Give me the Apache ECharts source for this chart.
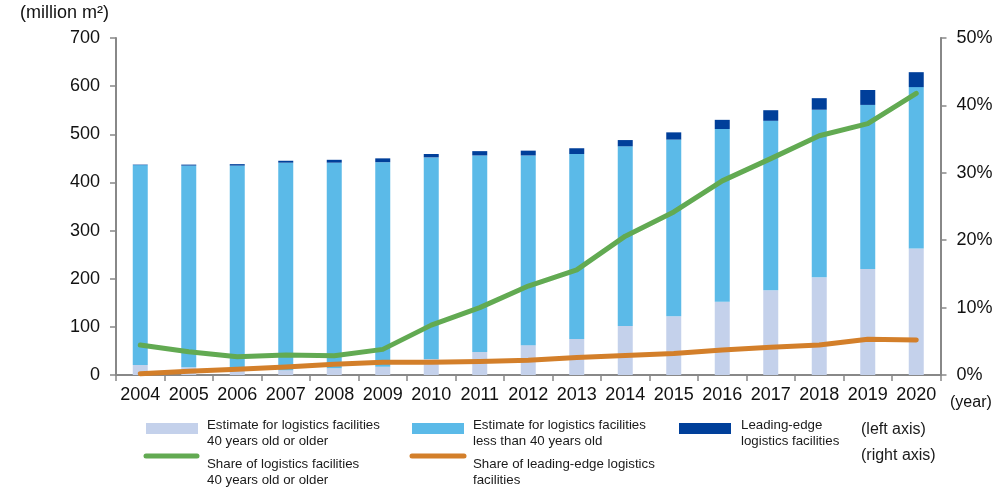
<!DOCTYPE html>
<html><head><meta charset="utf-8">
<script src="https://cdn.jsdelivr.net/npm/echarts@6/dist/echarts.min.js"></script>
<style>html,body{margin:0;padding:0;background:#fff}#c{width:1006px;height:487px}</style>
</head><body><div id="c"></div>
<script>
const years = ['2004','2005','2006','2007','2008','2009','2010','2011','2012','2013','2014','2015','2016','2017','2018','2019','2020'];
const old40 = [21,16,12,10,14,17,33,48,62,75,102,122,152,176,203,220,263];
const young40 = [415,419,423,431,427,425,419,408,394,384,373,367,359,352,348,341,335];
const leading = [1,2,3,4,6,8,7,9,10,12,13,15,19,22,24,31,31];
const shareOld = [4.45,3.46,2.7,2.97,2.87,3.8,7.4,10.0,13.2,15.6,20.6,24.2,28.8,32.1,35.5,37.3,41.8];
const shareLeading = [0.2,0.55,0.85,1.2,1.6,1.9,1.9,2.0,2.2,2.6,2.9,3.2,3.7,4.1,4.45,5.3,5.2];
const leftTicks = [0,100,200,300,400,500,600,700];
const rightTicks = [0,10,20,30,40,50];

const C_OLD='#C4D1EB', C_YOUNG='#5BBAE8', C_LEAD='#003F9A', C_GREEN='#62AA52', C_ORANGE='#D37F2A';
const FONT='Liberation Sans, Arial, sans-serif';
const axisLine={show:true,lineStyle:{color:'#888',width:2}};
const tick={show:true,length:6,lineStyle:{color:'#888',width:1.5}};
const chart = echarts.init(document.getElementById('c'));
const legText = (x,y,t,fs)=>({type:'text',left:x,top:y,style:{text:t,fontFamily:FONT,fontSize:fs||13.3,fill:'#1a1a1a',lineHeight:16}});
chart.setOption({
  animation:false,
  grid:{left:116,right:65.5,top:38,bottom:112},
  xAxis:{type:'category',data:years,boundaryGap:true,
    axisLine:axisLine,axisTick:tick,
    axisLabel:{fontFamily:FONT,fontSize:18,color:'#111',margin:11,interval:0}},
  yAxis:[
    {type:'value',min:leftTicks[0],max:leftTicks[leftTicks.length-1],interval:100,
     axisLine:axisLine,axisTick:tick,splitLine:{show:false},
     axisLabel:{fontFamily:FONT,fontSize:18,color:'#111',margin:16}},
    {type:'value',min:rightTicks[0],max:rightTicks[rightTicks.length-1],interval:10,position:'right',
     axisLine:axisLine,axisTick:tick,splitLine:{show:false},
     axisLabel:{fontFamily:FONT,fontSize:18,color:'#111',margin:16,formatter:'{value}%'}}
  ],
  series:[
    {type:'bar',stack:'a',data:old40,barWidth:15,itemStyle:{color:C_OLD}},
    {type:'bar',stack:'a',data:young40,barWidth:15,itemStyle:{color:C_YOUNG}},
    {type:'bar',stack:'a',data:leading,barWidth:15,itemStyle:{color:C_LEAD}},
    {type:'line',yAxisIndex:1,data:shareOld,symbol:'none',lineStyle:{color:C_GREEN,width:5,cap:'round',join:'round'},z:5},
    {type:'line',yAxisIndex:1,data:shareLeading,symbol:'none',lineStyle:{color:C_ORANGE,width:5,cap:'round',join:'round'},z:5}
  ],
  graphic:[
    {type:'text',left:20,top:4,style:{text:'(million m²)',fontFamily:FONT,fontSize:18,fill:'#111'}},
    {type:'text',left:950,top:395,style:{text:'(year)',fontFamily:FONT,fontSize:16,fill:'#111'}},
    {type:'rect',shape:{x:146,y:423,width:52,height:11},style:{fill:C_OLD}},
    legText(207,417,'Estimate for logistics facilities\n40 years old or older'),
    {type:'rect',shape:{x:412,y:423,width:52,height:11},style:{fill:C_YOUNG}},
    legText(473,417,'Estimate for logistics facilities\nless than 40 years old'),
    {type:'rect',shape:{x:679,y:423,width:52,height:11},style:{fill:C_LEAD}},
    legText(741,417,'Leading-edge\nlogistics facilities'),
    {type:'line',shape:{x1:146,y1:456,x2:197,y2:456},style:{stroke:C_GREEN,lineWidth:5,lineCap:'round'}},
    legText(207,456,'Share of logistics facilities\n40 years old or older'),
    {type:'line',shape:{x1:412,y1:456,x2:464,y2:456},style:{stroke:C_ORANGE,lineWidth:5,lineCap:'round'}},
    legText(473,456,'Share of leading-edge logistics\nfacilities'),
    legText(861,422,'(left axis)',16),
    legText(861,448,'(right axis)',16)
  ]
});
</script></body></html>
